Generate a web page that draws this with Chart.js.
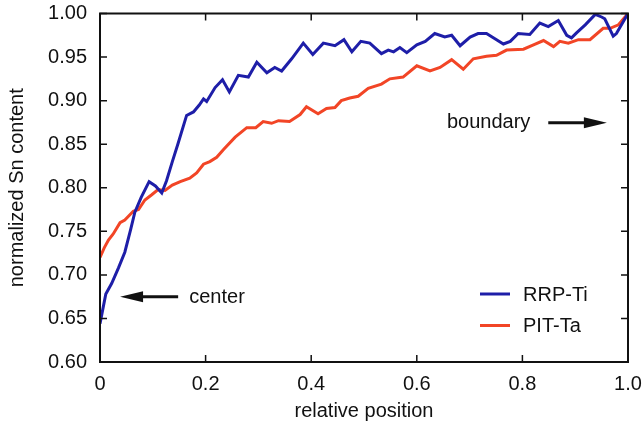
<!DOCTYPE html>
<html>
<head>
<meta charset="utf-8">
<script src="https://cdn.jsdelivr.net/npm/chart.js@4/dist/chart.umd.min.js"></script>
<style>
  html, body { margin: 0; padding: 0; background: #fff; }
  #wrap { width: 644px; height: 427px; }
</style>
</head>
<body>
<div id="wrap"><canvas id="snChart" width="644" height="427"></canvas></div>
<script>
// RRP-Ti profile
const rrpX = [0, 0.011, 0.022, 0.035, 0.047, 0.058, 0.066, 0.078, 0.093, 0.105, 0.117, 0.126, 0.137, 0.148, 0.164, 0.177, 0.188, 0.196, 0.202, 0.218, 0.232, 0.245, 0.262, 0.281, 0.297, 0.316, 0.331, 0.344, 0.363, 0.385, 0.403, 0.423, 0.445, 0.462, 0.477, 0.494, 0.511, 0.533, 0.546, 0.556, 0.568, 0.581, 0.600, 0.616, 0.634, 0.653, 0.666, 0.682, 0.701, 0.716, 0.732, 0.748, 0.764, 0.777, 0.792, 0.814, 0.833, 0.849, 0.868, 0.884, 0.893, 0.903, 0.919, 0.938, 0.950, 0.956, 0.972, 0.978, 1.0];
const rrpY = [0.644, 0.678, 0.690, 0.708, 0.726, 0.752, 0.772, 0.789, 0.807, 0.802, 0.794, 0.808, 0.830, 0.851, 0.883, 0.887, 0.895, 0.902, 0.899, 0.915, 0.924, 0.910, 0.929, 0.927, 0.944, 0.932, 0.938, 0.934, 0.948, 0.966, 0.953, 0.966, 0.963, 0.970, 0.956, 0.968, 0.966, 0.954, 0.958, 0.956, 0.961, 0.955, 0.964, 0.968, 0.977, 0.973, 0.975, 0.963, 0.973, 0.977, 0.977, 0.971, 0.965, 0.968, 0.977, 0.976, 0.989, 0.985, 0.992, 0.975, 0.972, 0.978, 0.987, 0.999, 0.996, 0.994, 0.974, 0.977, 1.0];

// PIT-Ta profile
const pitX = [0, 0.008, 0.016, 0.025, 0.038, 0.047, 0.063, 0.073, 0.085, 0.098, 0.110, 0.123, 0.137, 0.152, 0.170, 0.183, 0.196, 0.208, 0.221, 0.234, 0.256, 0.278, 0.295, 0.309, 0.325, 0.338, 0.359, 0.379, 0.391, 0.413, 0.429, 0.445, 0.457, 0.473, 0.489, 0.508, 0.533, 0.549, 0.574, 0.600, 0.625, 0.644, 0.666, 0.688, 0.707, 0.732, 0.751, 0.770, 0.802, 0.821, 0.840, 0.859, 0.871, 0.887, 0.906, 0.928, 0.953, 0.966, 0.982, 1.0];
const pitY = [0.720, 0.731, 0.740, 0.747, 0.760, 0.763, 0.773, 0.775, 0.786, 0.792, 0.798, 0.797, 0.803, 0.807, 0.811, 0.817, 0.827, 0.830, 0.835, 0.844, 0.858, 0.869, 0.869, 0.876, 0.874, 0.877, 0.876, 0.884, 0.893, 0.885, 0.891, 0.892, 0.900, 0.903, 0.905, 0.914, 0.919, 0.925, 0.927, 0.940, 0.934, 0.938, 0.947, 0.936, 0.948, 0.951, 0.952, 0.958, 0.959, 0.964, 0.969, 0.962, 0.968, 0.966, 0.970, 0.970, 0.983, 0.983, 0.987, 1.0];

const seriesLabels = ['RRP-Ti', 'PIT-Ta'];
const xTickStep = 0.2;
const yTickStep = 0.05;

const FONT = 'Liberation Sans, Arial, Helvetica, sans-serif';
const FSIZE = 20;
const BLUE = '#1e1ea8';
const RED = '#f24526';

const toPoints = (xs, ys) => xs.map((x, i) => ({ x: x, y: ys[i] }));

// frame + inward ticks on all four sides
const framePlugin = {
  id: 'frame',
  afterDraw(chart) {
    const { ctx, chartArea: a, scales } = chart;
    const len = 7;
    ctx.save();
    ctx.strokeStyle = '#111';
    ctx.lineWidth = 1.5;
    scales.x.ticks.forEach(t => {
      const px = scales.x.getPixelForValue(t.value);
      ctx.beginPath();
      ctx.moveTo(px, a.bottom); ctx.lineTo(px, a.bottom - len);
      ctx.moveTo(px, a.top); ctx.lineTo(px, a.top + len);
      ctx.stroke();
    });
    scales.y.ticks.forEach(t => {
      const py = scales.y.getPixelForValue(t.value);
      ctx.beginPath();
      ctx.moveTo(a.left, py); ctx.lineTo(a.left + len, py);
      ctx.moveTo(a.right, py); ctx.lineTo(a.right - len, py);
      ctx.stroke();
    });
    ctx.lineWidth = 2;
    ctx.strokeRect(a.left, a.top, a.right - a.left, a.bottom - a.top);
    ctx.restore();
  }
};

function arrow(ctx, x1, y, x2) {
  // x1 = tail, x2 = head
  const dir = x2 > x1 ? 1 : -1;
  const headLen = 23;
  ctx.beginPath();
  ctx.moveTo(x1, y);
  ctx.lineTo(x2 - dir * headLen * 0.8, y);
  ctx.lineWidth = 3;
  ctx.stroke();
  ctx.beginPath();
  ctx.moveTo(x2, y);
  ctx.lineTo(x2 - dir * headLen, y - 5.5);
  ctx.lineTo(x2 - dir * headLen, y + 5.5);
  ctx.closePath();
  ctx.fill();
}

// "center" / "boundary" notes and the inset legend
const notesPlugin = {
  id: 'notes',
  afterDraw(chart) {
    const { ctx, scales: { x, y } } = chart;
    ctx.save();
    ctx.fillStyle = '#111';
    ctx.strokeStyle = '#111';
    ctx.font = FSIZE + 'px ' + FONT;
    ctx.textBaseline = 'middle';

    const cy = y.getPixelForValue(0.675);
    arrow(ctx, x.getPixelForValue(0.148), cy, x.getPixelForValue(0.038));
    ctx.textAlign = 'left';
    ctx.fillText('center', x.getPixelForValue(0.169), cy + 1);

    const by = y.getPixelForValue(0.8745);
    ctx.fillText('boundary', x.getPixelForValue(0.657), by);
    arrow(ctx, x.getPixelForValue(0.849), by, x.getPixelForValue(0.960));

    // legend
    chart.data.datasets.forEach((ds, i) => {
      const ly = 294 + i * 31.5;
      ctx.strokeStyle = ds.borderColor;
      ctx.lineWidth = 3;
      ctx.beginPath();
      ctx.moveTo(480, ly); ctx.lineTo(510, ly);
      ctx.stroke();
      ctx.fillStyle = '#111';
      ctx.fillText(ds.label, 523, ly + 1);
    });
    ctx.restore();
  }
};

new Chart(document.getElementById('snChart'), {
  type: 'line',
  data: {
    datasets: [
      {
        label: seriesLabels[0],
        data: toPoints(rrpX, rrpY),
        borderColor: BLUE,
        borderWidth: 3,
        pointRadius: 0,
        tension: 0,
        fill: false
      },
      {
        label: seriesLabels[1],
        data: toPoints(pitX, pitY),
        borderColor: RED,
        borderWidth: 3,
        pointRadius: 0,
        tension: 0,
        fill: false
      }
    ]
  },
  options: {
    responsive: false,
    animation: false,
    layout: { padding: { top: 13.5, right: 16, left: 0, bottom: 0 } },
    plugins: {
      legend: { display: false },
      tooltip: { enabled: false }
    },
    scales: {
      x: {
        type: 'linear',
        min: 0,
        max: 1,
        border: { display: false },
        grid: { display: false, drawTicks: false },
        ticks: {
          stepSize: xTickStep,
          padding: 10,
          color: '#111',
          font: { family: FONT, size: FSIZE },
          maxRotation: 0,
          callback: v => (Math.abs(v) < 1e-9 ? '0' : v.toFixed(1))
        },
        title: {
          display: true,
          text: 'relative position',
          color: '#111',
          font: { family: FONT, size: FSIZE },
          padding: { top: 0, bottom: 4 }
        },
        afterFit: s => { s.height = 65; s.paddingLeft = 0; s.paddingRight = 0; }
      },
      y: {
        min: 0.6,
        max: 1.0,
        border: { display: false },
        grid: { display: false, drawTicks: false },
        ticks: {
          stepSize: yTickStep,
          padding: 13,
          color: '#111',
          font: { family: FONT, size: FSIZE },
          callback: v => v.toFixed(2)
        },
        title: {
          display: true,
          text: 'normalized Sn content',
          color: '#111',
          font: { family: FONT, size: FSIZE },
          padding: { top: 5, bottom: 0 }
        },
        afterFit: s => { s.width = 100; s.paddingTop = 0; s.paddingBottom = 0; }
      }
    }
  },
  plugins: [framePlugin, notesPlugin]
});
</script>
</body>
</html>
